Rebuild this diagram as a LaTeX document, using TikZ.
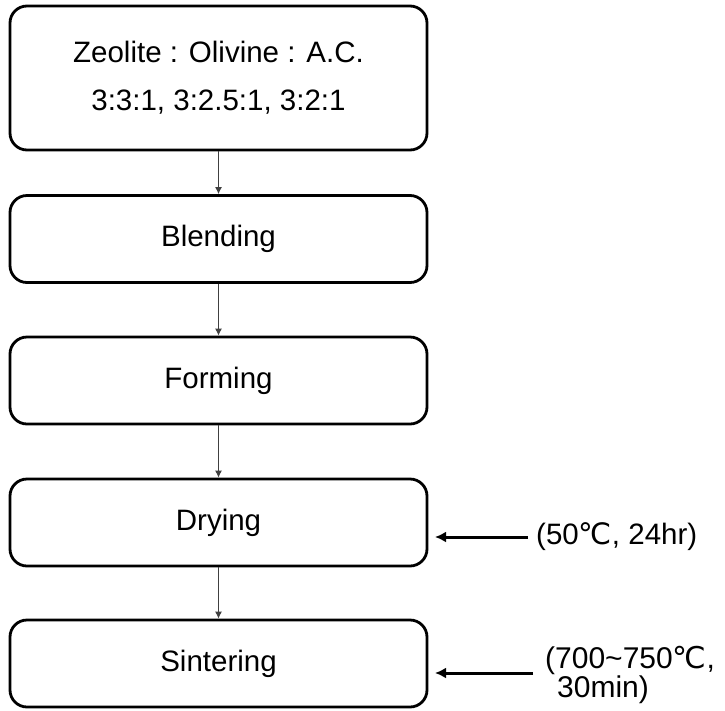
\documentclass[tikz,border=0pt]{standalone}
\usepackage{fontspec}
\setmainfont{Liberation Sans}
\newfontfamily\symfont{DejaVu Sans}
\usetikzlibrary{arrows.meta}
\usetikzlibrary{positioning}
\tikzset{step box/.style={draw, line width=2.8pt, rounded corners=17pt, minimum width=417pt, minimum height=87pt, inner sep=0pt}}
\tikzset{flow/.style={line width=1pt, draw=black!75, -{Latex[length=7pt,width=7pt]}}}
\tikzset{cond/.style={line width=3pt, -{Latex[length=11pt,width=11pt]}}}

\begin{document}
\begin{tikzpicture}[x=1pt, y=-1pt]
	% Default font for each node
	\tikzstyle{every node}=[font=\fontsize{29.5}{34}\selectfont];
	\useasboundingbox (0,0) rectangle (725,710);

	% STEPS
	\node[step box, minimum height=144pt, align=center, font=\fontsize{29.5}{48}\selectfont] (mix) at (218.5,78) {Zeolite : Olivine : A.C.\\3:3:1, 3:2.5:1, 3:2:1};
	\node[step box] (blend) at (218.5,239) {Blending};
	\node[step box] (form) at (218.5,380.5) {Forming};
	\node[step box] (dry) at (218.5,522.5) {Drying};
	\node[step box] (sinter) at (218.5,663.5) {Sintering};

	% Conditions
	\coordinate (dry cond) at (528,537);	\coordinate (dry box) at (435,537);
	\coordinate (sinter cond) at (533,673);	\coordinate (sinter box) at (435,673);
	\node[anchor=west, inner sep=0pt] (dry text) at (536,537) {(50{\symfont ℃}, 24hr)};
	\node[anchor=west, inner sep=0pt, align=left, font=\fontsize{30}{27}\selectfont] (sinter text) at (545,675) {(700\textasciitilde750{\symfont ℃},\\\hspace{12pt}30min)};

	% Verticals
	\draw[flow] (mix) -- (blend);
	\draw[flow] (blend) -- (form);
	\draw[flow] (form) -- (dry);
	\draw[flow] (dry) -- (sinter);

	% Horizontals
	\draw[cond] (dry cond) -- (dry box);
	\draw[cond] (sinter cond) -- (sinter box);
\end{tikzpicture}
\end{document}
